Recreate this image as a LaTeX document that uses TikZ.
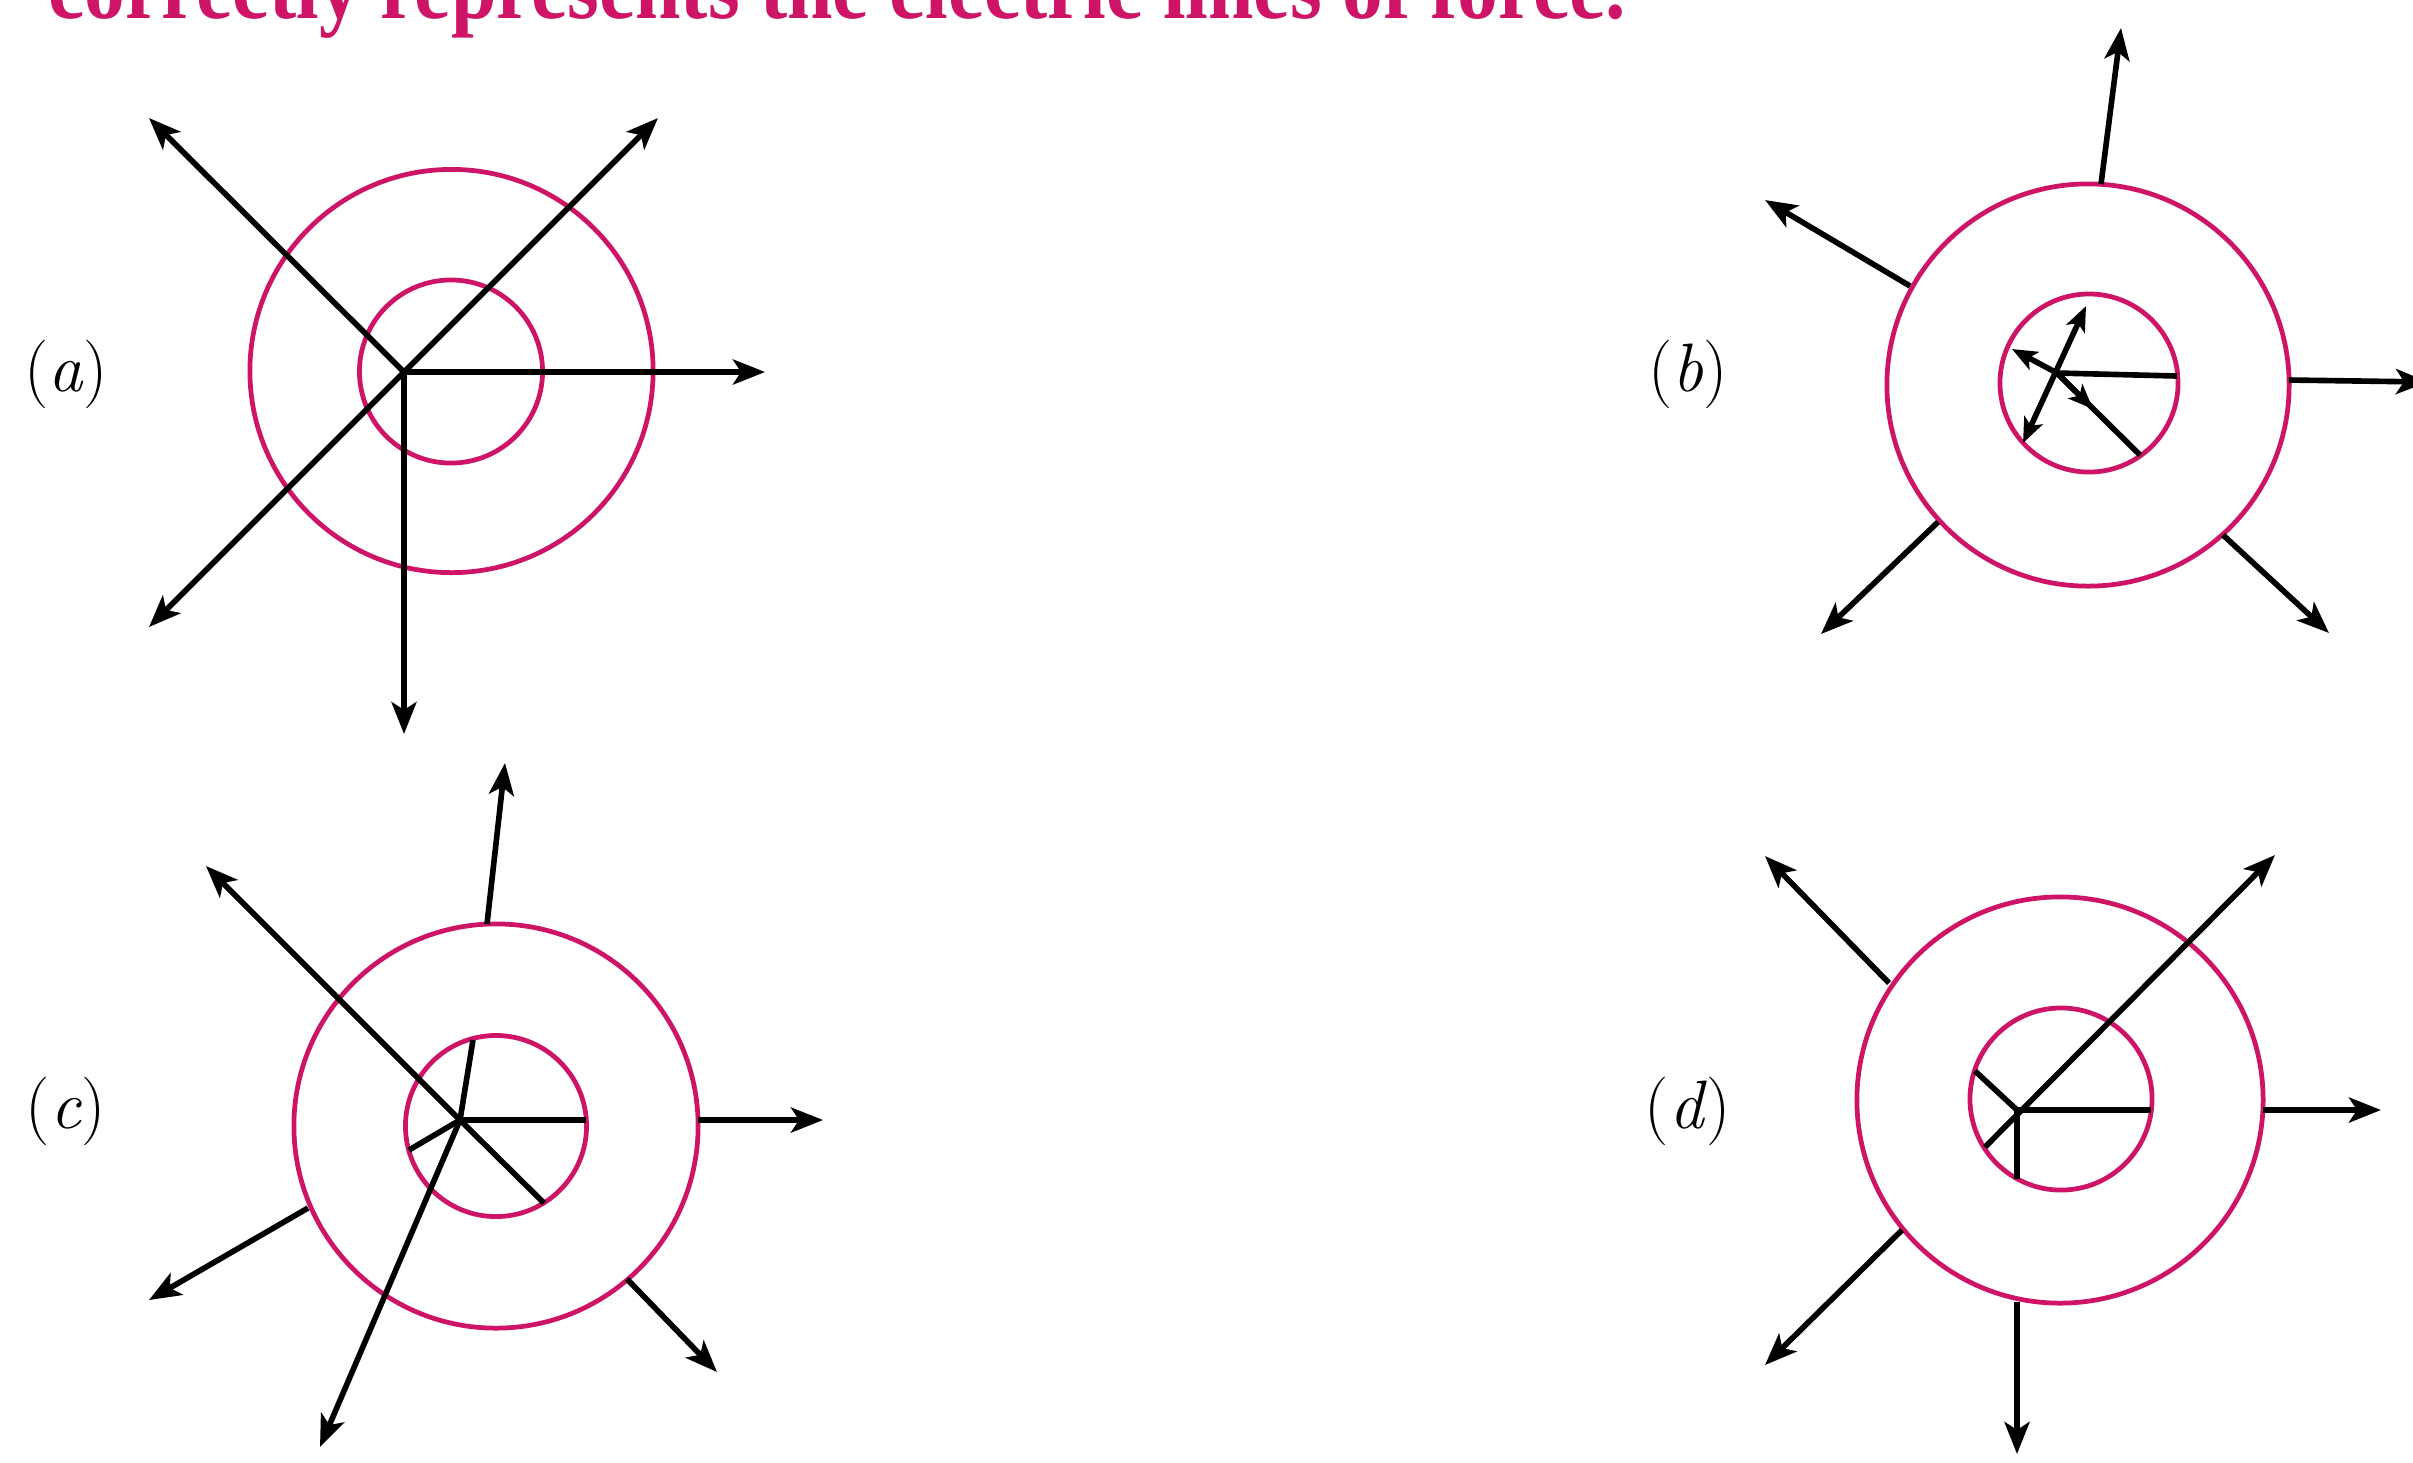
\documentclass[tikz,border=0pt]{standalone}
\usepackage{fontspec}
\newfontfamily\titlefont{Liberation Serif}
\usetikzlibrary{arrows.meta}
\definecolor{mag}{RGB}{206,20,102}
\begin{document}
\begin{tikzpicture}[x=0.01cm,y=-0.01cm,
  ring/.style={circle, draw=mag, line width=1.35pt, inner sep=0pt, outer sep=0pt},
  fline/.style={line width=1.6pt, black},
  farrow/.style={fline, -{Stealth[length=0.32cm,width=0.25cm,inset=0.08cm]}},
  sarrow/.style={fline, -{Stealth[length=0.25cm,width=0.2cm,inset=0.06cm]}},
  dblarrow/.style={fline, {Stealth[length=0.25cm,width=0.2cm,inset=0.06cm]}-{Stealth[length=0.25cm,width=0.2cm,inset=0.06cm]}},
  lbl/.style={font=\fontsize{19.5}{22}\selectfont, inner sep=0pt}]
\clip (0,0) rectangle (2413,1462);
\fill[white] (0,0) rectangle (2413,1462);

% title (cut off at the top)
\node[anchor=base west, inner sep=0pt, text=mag] (title) at (48,18)
  {\scalebox{1}[1.13]{\titlefont\bfseries\fontsize{23.2}{26}\selectfont correctly represents the electric lines of force.}};

% ---------- (a)
\node[lbl] (la) at (66,374) {(\textit{a})};
\node[ring, minimum size=4.03cm] (aout) at (451.5,371) {};
\node[ring, minimum size=1.83cm] (ain) at (451,371.5) {};
\coordinate (ao) at (404,372);
\coordinate (aul) at (149,118);
\coordinate (aur) at (658,118);
\coordinate (ar) at (765,372);
\coordinate (ad) at (404,734);
\coordinate (adl) at (149,627);
\draw[farrow] (ao) -- (aul);
\draw[farrow] (ao) -- (aur);
\draw[farrow] (ao) -- (ar);
\draw[farrow] (ao) -- (ad);
\draw[farrow] (ao) -- (adl);

% ---------- (b)
\node[lbl] (lb) at (1688,374) {(\textit{b})};
\node[ring, minimum size=4.02cm] (bout) at (2088,385) {};
\node[ring, minimum size=1.78cm] (bin) at (2089,383) {};
\coordinate (bo) at (2057,373);
\coordinate (bh) at (2177,376);
\coordinate (bdl) at (2023,443);
\coordinate (bur) at (2086,306);
\coordinate (bul) at (2012,349);
\coordinate (bdr) at (2140,455);
\coordinate (bmid) at (2093,409);
\draw[fline] (bo) -- (bh);
\draw[dblarrow] (bdl) -- (bur);
\draw[sarrow] (bo) -- (bul);
\draw[fline] (bo) -- (bdr);
\draw[sarrow] (bo) -- (bmid);
% outer
\coordinate (bs1) at (2101,184);  \coordinate (bt1) at (2121,28);
\coordinate (bs2) at (1910,286);  \coordinate (bt2) at (1765,200);
\coordinate (bs3) at (2289,380);  \coordinate (bt3) at (2428,382);
\coordinate (bs4) at (1938,522);  \coordinate (bt4) at (1821,634);
\coordinate (bs5) at (2223,535);  \coordinate (bt5) at (2329,633);
\draw[farrow] (bs1) -- (bt1);
\draw[farrow] (bs2) -- (bt2);
\draw[farrow] (bs3) -- (bt3);
\draw[farrow] (bs4) -- (bt4);
\draw[farrow] (bs5) -- (bt5);

% ---------- (c)
\node[lbl] (lc) at (66,1111) {(\textit{c})};
\node[ring, minimum size=4.04cm] (cout) at (496,1126) {};
\node[ring, minimum size=1.81cm] (cin) at (496,1126) {};
\coordinate (co) at (460,1120);
\coordinate (ci1) at (473,1040);
\coordinate (ci2) at (586,1120);
\coordinate (ci3) at (544,1203);
\coordinate (ci4) at (409,1150);
\draw[fline] (co) -- (ci1);
\draw[fline] (co) -- (ci2);
\draw[fline] (co) -- (ci3);
\draw[fline] (co) -- (ci4);
\coordinate (cul) at (206,866);
\coordinate (cdn) at (320,1447);
\draw[farrow] (co) -- (cul);
\draw[farrow] (co) -- (cdn);
\coordinate (cs1) at (487,924);   \coordinate (ct1) at (505,763);
\coordinate (cs2) at (698,1120);  \coordinate (ct2) at (823,1120);
\coordinate (cs3) at (308,1208);  \coordinate (ct3) at (149,1300);
\coordinate (cs4) at (627,1279);  \coordinate (ct4) at (717,1372);
\draw[farrow] (cs1) -- (ct1);
\draw[farrow] (cs2) -- (ct2);
\draw[farrow] (cs3) -- (ct3);
\draw[farrow] (cs4) -- (ct4);

% ---------- (d)
\node[lbl] (ld) at (1688,1111) {(\textit{d})};
\node[ring, minimum size=4.06cm] (dout) at (2060,1100) {};
\node[ring, minimum size=1.82cm] (din) at (2061,1099) {};
\coordinate (do) at (2017,1110);
\coordinate (di1) at (2151,1110);
\coordinate (di2) at (2017,1179);
\coordinate (di3) at (1975,1071);
\coordinate (di4) at (1985,1147);
\draw[fline] (do) -- (di1);
\draw[fline] (do) -- (di2);
\draw[fline] (do) -- (di3);
\coordinate (dur) at (2275,855);
\draw[farrow] (di4) -- (dur);
\coordinate (ds1) at (1889,983);   \coordinate (dt1) at (1765,856);
\coordinate (ds2) at (2263,1110);  \coordinate (dt2) at (2381,1110);
\coordinate (ds3) at (1902,1230);  \coordinate (dt3) at (1765,1365);
\coordinate (ds4) at (2017,1302);  \coordinate (dt4) at (2017,1454);
\draw[farrow] (ds1) -- (dt1);
\draw[farrow] (ds2) -- (dt2);
\draw[farrow] (ds3) -- (dt3);
\draw[farrow] (ds4) -- (dt4);
\end{tikzpicture}
\end{document}
